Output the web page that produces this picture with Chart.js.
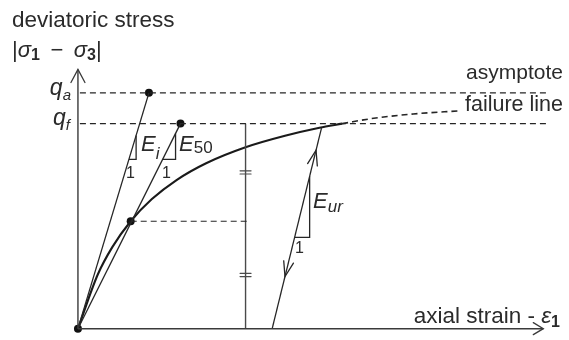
<!DOCTYPE html>
<html>
<head>
<meta charset="utf-8">
<script src="https://cdn.jsdelivr.net/npm/chart.js@4/dist/chart.umd.min.js"></script>
<style>
  html, body { margin: 0; padding: 0; background: #fff; }
  #wrap { width: 569px; height: 340px; }
</style>
</head>
<body>
<div id="wrap"><canvas id="c" width="569" height="340"></canvas></div>
<script>
// Hyperbolic stress–strain relation for primary loading
// (strain in arbitrary units, deviatoric stress normalised by q_f)
const qf = 1.0;
const qa = 1.15;

// primary loading curve up to failure
const curvePts = [[0, 0], [0.20, 0.263], [0.35, 0.399], [0.535, 0.524], [0.75, 0.632],
                  [1.00, 0.725], [1.30, 0.807], [1.70, 0.885], [2.10, 0.941], [2.45, 0.980], [2.68, 1.0]];
// hyperbola continued beyond failure towards the asymptote
const beyondPts = [[2.68, 1.0], [3.0, 1.026], [3.4, 1.047], [3.86, 1.062]];
// initial stiffness Ei (tangent at origin, reaching q_a) and secant stiffness E50
const eiLine = [[0, 0], [0.72, qa]];
const e50Line = [[0, 0], [1.04, qf]];
const eiTri = [[0.517, 0.826], [0.59, 0.826], [0.59, 0.942]];
const e50Tri = [[0.859, 0.826], [0.99, 0.826], [0.99, 0.952]];
// unloading / reloading branch
const urLine = [[1.97, 0], [2.47, 0.978]];
const urTri = [[2.197, 0.445], [2.35, 0.445], [2.35, 0.743]];
// half of failure stress and the strain line used to mark it
const halfLevel = [[0.535, 0.524], [1.75, 0.524]];
const strainMark = [[1.70, 0], [1.70, qf]];
// horizontal reference lines
const qaLine = [[0.02, qa], [4.78, qa]];
const qfLine = [[0.02, qf], [4.78, qf]];
// highlighted points
const dots = [[0, 0], [0.535, 0.524], [0.72, qa], [1.04, qf]];
// axes
const yAxisPts = [[0, 0], [0, 1.264]];
const xAxisPts = [[0, 0], [4.72, 0]];

const xy = a => a.map(p => ({ x: p[0], y: p[1] }));
const INK = '#262626';

function lineSet(pts, o) {
  return Object.assign({
    data: xy(pts), showLine: true, pointRadius: 0, borderColor: INK,
    borderWidth: 1.3, fill: false, tension: 0
  }, o || {});
}

function chevron(ctx, tx, ty, dx, dy, back, half) {
  const L = Math.hypot(dx, dy); dx /= L; dy /= L;
  const nx = -dy, ny = dx;
  ctx.beginPath();
  ctx.moveTo(tx - dx * back + nx * half, ty - dy * back + ny * half);
  ctx.lineTo(tx, ty);
  ctx.lineTo(tx - dx * back - nx * half, ty - dy * back - ny * half);
  ctx.stroke();
}

// draws a sequence of text runs: [text, font, baselineShift]
function runs(ctx, x, y, parts, align) {
  let w = 0;
  parts.forEach(p => { ctx.font = p[1]; w += ctx.measureText(p[0]).width; });
  let cx = align === 'right' ? x - w : x;
  parts.forEach(p => {
    ctx.font = p[1];
    ctx.fillText(p[0], cx, y + (p[2] || 0));
    cx += ctx.measureText(p[0]).width;
  });
}

const F = '"Liberation Sans", Arial, sans-serif';

const annotations = {
  id: 'annotations',
  afterDatasetsDraw(chart) {
    const ctx = chart.ctx;
    const sx = chart.scales.x, sy = chart.scales.y;
    const px = v => sx.getPixelForValue(v), py = v => sy.getPixelForValue(v);
    ctx.save();
    ctx.strokeStyle = '#3a3a3a';
    ctx.lineWidth = 1.3;
    ctx.lineCap = 'round';

    // axis arrowheads
    chevron(ctx, px(yAxisPts[1][0]), py(yAxisPts[1][1]), 0, -1, 13, 7);
    chevron(ctx, px(xAxisPts[1][0]), py(xAxisPts[1][1]), 1, 0, 10, 6);

    // direction arrows on the unloading / reloading branch
    const ax = px(urLine[0][0]), ay = py(urLine[0][1]);
    const bx = px(urLine[1][0]), by = py(urLine[1][1]);
    const at = t => [ax + (bx - ax) * t, ay + (by - ay) * t];
    ctx.strokeStyle = INK;
    let p = at(0.89); chevron(ctx, p[0], p[1], bx - ax, by - ay, 15, 5);
    p = at(0.26); chevron(ctx, p[0], p[1], ax - bx, ay - by, 15, 5);

    // equal-length marks on the strain line
    const half = halfLevel[0][1];
    ctx.strokeStyle = '#4a4a4a';
    ctx.lineWidth = 1.2;
    [(qf + half) / 2, half / 2].forEach(v => {
      const yy = py(v), xx = px(strainMark[0][0]);
      [-1.6, 1.6].forEach(o => {
        ctx.beginPath(); ctx.moveTo(xx - 5.5, yy + o); ctx.lineTo(xx + 5.5, yy + o); ctx.stroke();
      });
    });

    // text
    ctx.fillStyle = '#2b2b2b';
    ctx.textBaseline = 'alphabetic';
    ctx.textAlign = 'left';
    const R = '22px ' + F, I = 'italic 22px ' + F;
    ctx.font = '22.5px ' + F;
    ctx.fillText('deviatoric stress', 12, 27);
    runs(ctx, 12, 57, [['|', R], ['σ', I], ['1', 'bold 16px ' + F, 3], ['\u2009 − \u2009', R],
                       ['σ', I], ['3', 'bold 16px ' + F, 3], ['|', R]]);
    runs(ctx, 71, py(qa) + 2, [['q', 'italic 23px ' + F], ['a', 'italic 15px ' + F, 5]], 'right');
    runs(ctx, 70, py(qf) + 1, [['q', 'italic 23px ' + F], ['f', 'italic 15px ' + F, 5]], 'right');

    ctx.textAlign = 'right';
    ctx.font = '21px ' + F;
    ctx.fillText('asymptote', 563, 79);
    ctx.font = '21.5px ' + F;
    ctx.fillText('failure line', 563, 111);
    ctx.textAlign = 'left';
    runs(ctx, 560, 323, [['axial strain - ', '22.5px ' + F], ['ε', 'italic 22.5px ' + F], ['1', 'bold 16px ' + F, 4]], 'right');

    runs(ctx, 141, 151, [['E', 'italic 22px ' + F], ['i', 'italic 17px ' + F, 8]]);
    runs(ctx, 179, 151, [['E', 'italic 22px ' + F], ['50', '17px ' + F, 2]]);
    runs(ctx, 313, 208, [['E', 'italic 22px ' + F], ['ur', 'italic 17px ' + F, 4]]);
    ctx.font = '16px ' + F;
    ctx.fillText('1', 126, 178);
    ctx.fillText('1', 162, 178);
    ctx.fillText('1', 295, 253);
    ctx.restore();
  }
};

new Chart(document.getElementById('c'), {
  type: 'scatter',
  data: {
    datasets: [
      lineSet(qaLine, { borderDash: [6, 4], borderWidth: 1.2 }),
      lineSet(qfLine, { borderDash: [6, 4], borderWidth: 1.2 }),
      lineSet(halfLevel, { borderDash: [6, 4], borderWidth: 1.2 }),
      lineSet(yAxisPts, { borderColor: '#3a3a3a', borderWidth: 1.4 }),
      lineSet(xAxisPts, { borderColor: '#3a3a3a', borderWidth: 1.4 }),
      lineSet(strainMark, { borderColor: '#4a4a4a', borderWidth: 1.4 }),
      lineSet(eiLine),
      lineSet(e50Line),
      lineSet(eiTri),
      lineSet(e50Tri),
      lineSet(urLine),
      lineSet(urTri),
      lineSet(beyondPts, { borderDash: [6, 4], borderWidth: 1.6, cubicInterpolationMode: 'monotone' }),
      lineSet(curvePts, { borderWidth: 2.1, cubicInterpolationMode: 'monotone', borderColor: '#1a1a1a' }),
      { data: xy(dots), showLine: false, pointRadius: 4, pointBackgroundColor: '#111',
        pointBorderColor: '#111', pointBorderWidth: 0 }
    ]
  },
  options: {
    responsive: false,
    animation: false,
    devicePixelRatio: 1,
    layout: { padding: 0 },
    plugins: { legend: { display: false }, tooltip: { enabled: false } },
    events: [],
    scales: {
      x: { type: 'linear', display: false, min: -0.75, max: 4.94 },
      y: { type: 'linear', display: false, min: -7.5 / 210, max: 332.5 / 210 }
    }
  },
  plugins: [annotations]
});
</script>
</body>
</html>
